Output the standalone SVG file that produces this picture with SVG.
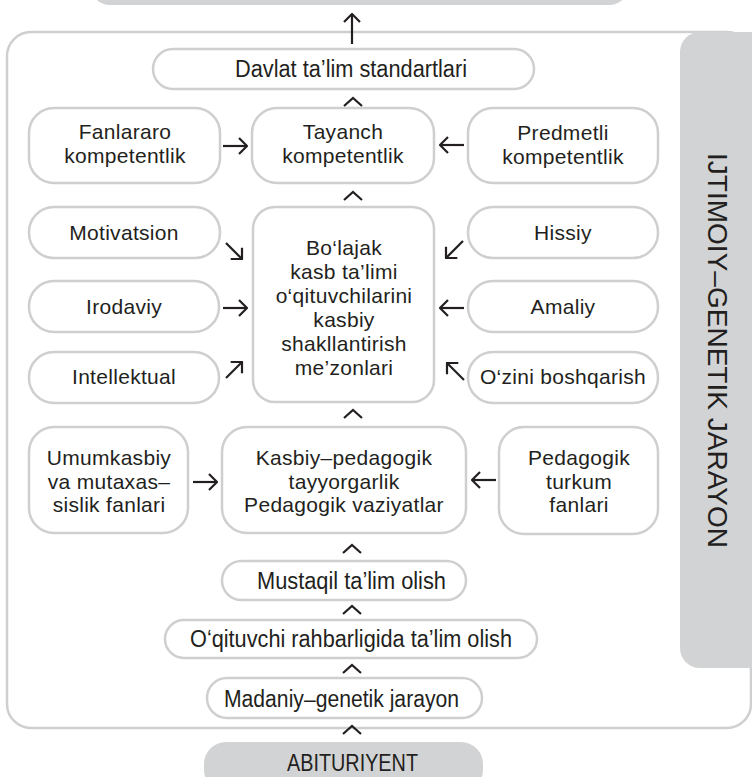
<svg xmlns="http://www.w3.org/2000/svg" width="752" height="777" viewBox="0 0 752 777">
<defs>
<style>
.box{fill:#fff;stroke:#cfcfcf;stroke-width:2.5}
.gray{fill:#d2d3d4;stroke:none}
.t{font-family:"Liberation Sans",Arial,sans-serif;font-size:21px;letter-spacing:0.3px;fill:#231f20;text-anchor:middle}
.c{font-family:"Liberation Sans",Arial,sans-serif;font-size:23px;fill:#231f20}
.v{font-family:"Liberation Sans",Arial,sans-serif;font-size:28px;fill:#231f20}
.ln{fill:none;stroke:#231f20;stroke-width:2.2;marker-end:url(#ah)}
.car{fill:none;stroke:#231f20;stroke-width:2.2}
</style>
<marker id="ah" viewBox="0 0 10 18" refX="9" refY="9" markerWidth="10" markerHeight="18" markerUnits="userSpaceOnUse" orient="auto">
<path d="M1,1 L9,9 L1,17" fill="none" stroke="#231f20" stroke-width="2.2"/>
</marker>
</defs>

<g id="top-bar"><rect class="gray" x="90" y="-35" width="539" height="40" rx="20"/></g>

<g id="container"><rect class="box" x="7" y="32" width="744" height="696" rx="24"/></g>

<g id="side-panel">
<rect class="gray" x="680" y="32" width="100" height="636" rx="20"/>
<text class="v" transform="translate(708,153) rotate(90)" x="0" y="0" textLength="395" lengthAdjust="spacingAndGlyphs">IJTIMOIY–GENETIK JARAYON</text>
</g>

<g id="davlat">
<rect class="box" x="153" y="49" width="381" height="40" rx="20"/>
<text class="c" x="235" y="77" textLength="232" lengthAdjust="spacingAndGlyphs">Davlat ta’lim standartlari</text>
</g>

<g id="fanlararo">
<rect class="box" x="29" y="108" width="191" height="75" rx="25"/>
<text class="t" x="125" y="139">Fanlararo</text>
<text class="t" x="125" y="163">kompetentlik</text>
</g>

<g id="tayanch">
<rect class="box" x="252" y="108" width="182" height="75" rx="25"/>
<text class="t" x="343" y="139">Tayanch</text>
<text class="t" x="343" y="163">kompetentlik</text>
</g>

<g id="predmetli">
<rect class="box" x="468" y="108" width="190" height="75" rx="25"/>
<text class="t" x="563" y="140">Predmetli</text>
<text class="t" x="563" y="164">kompetentlik</text>
</g>

<g id="motivatsion">
<rect class="box" x="29" y="207" width="191" height="51" rx="25"/>
<text class="t" x="124" y="240">Motivatsion</text>
</g>

<g id="hissiy">
<rect class="box" x="468" y="207" width="190" height="51" rx="25"/>
<text class="t" x="563" y="240">Hissiy</text>
</g>

<g id="irodaviy">
<rect class="box" x="29" y="281" width="190" height="51" rx="25"/>
<text class="t" x="124" y="314">Irodaviy</text>
</g>

<g id="amaliy">
<rect class="box" x="468" y="281" width="190" height="51" rx="25"/>
<text class="t" x="563" y="314">Amaliy</text>
</g>

<g id="intellektual">
<rect class="box" x="29" y="352" width="190" height="51" rx="25"/>
<text class="t" x="124" y="384">Intellektual</text>
</g>

<g id="ozini">
<rect class="box" x="468" y="352" width="190" height="51" rx="25"/>
<text class="t" x="563" y="384">O‘zini boshqarish</text>
</g>

<g id="central">
<rect class="box" x="253" y="207" width="181" height="195" rx="22"/>
<text class="t" x="344" y="255">Bo‘lajak</text>
<text class="t" x="344" y="279">kasb ta’limi</text>
<text class="t" x="344" y="303">o‘qituvchilarini</text>
<text class="t" x="344" y="327">kasbiy</text>
<text class="t" x="344" y="351">shakllantirish</text>
<text class="t" x="344" y="375">me’zonlari</text>
</g>

<g id="umumkasbiy">
<rect class="box" x="29" y="427" width="159" height="106" rx="25"/>
<text class="t" x="109" y="465">Umumkasbiy</text>
<text class="t" x="109" y="489">va mutaxas–</text>
<text class="t" x="109" y="512">sislik fanlari</text>
</g>

<g id="kasbiy">
<rect class="box" x="222" y="427" width="244" height="106" rx="25"/>
<text class="t" x="344" y="465">Kasbiy–pedagogik</text>
<text class="t" x="344" y="489">tayyorgarlik</text>
<text class="t" x="344" y="512">Pedagogik vaziyatlar</text>
</g>

<g id="pedagogik">
<rect class="box" x="499" y="427" width="159" height="107" rx="25"/>
<text class="t" x="579" y="465">Pedagogik</text>
<text class="t" x="579" y="489">turkum</text>
<text class="t" x="579" y="512">fanlari</text>
</g>

<g id="mustaqil">
<rect class="box" x="222" y="561" width="244" height="39" rx="19.5"/>
<text class="c" x="257" y="589" textLength="189" lengthAdjust="spacingAndGlyphs">Mustaqil ta’lim olish</text>
</g>

<g id="oqituvchi">
<rect class="box" x="165" y="620" width="372" height="38" rx="19"/>
<text class="c" x="190" y="647" textLength="322" lengthAdjust="spacingAndGlyphs">O‘qituvchi rahbarligida ta’lim olish</text>
</g>

<g id="madaniy">
<rect class="box" x="207" y="678" width="275" height="40" rx="20"/>
<text class="c" x="224" y="707" textLength="235" lengthAdjust="spacingAndGlyphs">Madaniy–genetik jarayon</text>
</g>

<g id="abituriyent">
<rect class="gray" x="204" y="742" width="279" height="50" rx="22"/>
<text class="c" x="287" y="771" textLength="131" lengthAdjust="spacingAndGlyphs">ABITURIYENT</text>
</g>

<g id="connectors">
<path class="ln" d="M352,44 L352,14"/>
<path class="ln" d="M223,146 L247,146"/>
<path class="ln" d="M464,145 L440,145"/>
<path class="ln" d="M226,243 L242,259"/>
<path class="ln" d="M223,308 L247,308"/>
<path class="ln" d="M226,378 L242,362"/>
<path class="ln" d="M463,241 L446,258"/>
<path class="ln" d="M464,308 L440,308"/>
<path class="ln" d="M464,380 L447,363"/>
<path class="ln" d="M193,482 L217,482"/>
<path class="ln" d="M496,480 L472,480"/>
<path class="car" d="M344,106 L353,98 L362,106"/>
<path class="car" d="M344,200 L353,192 L362,200"/>
<path class="car" d="M344,418 L353,410 L362,418"/>
<path class="car" d="M343,553 L352,545 L361,553"/>
<path class="car" d="M343,614 L352,606 L361,614"/>
<path class="car" d="M343,673 L352,665 L361,673"/>
<path class="car" d="M343,734 L352,726 L361,734"/>
</g>
</svg>
